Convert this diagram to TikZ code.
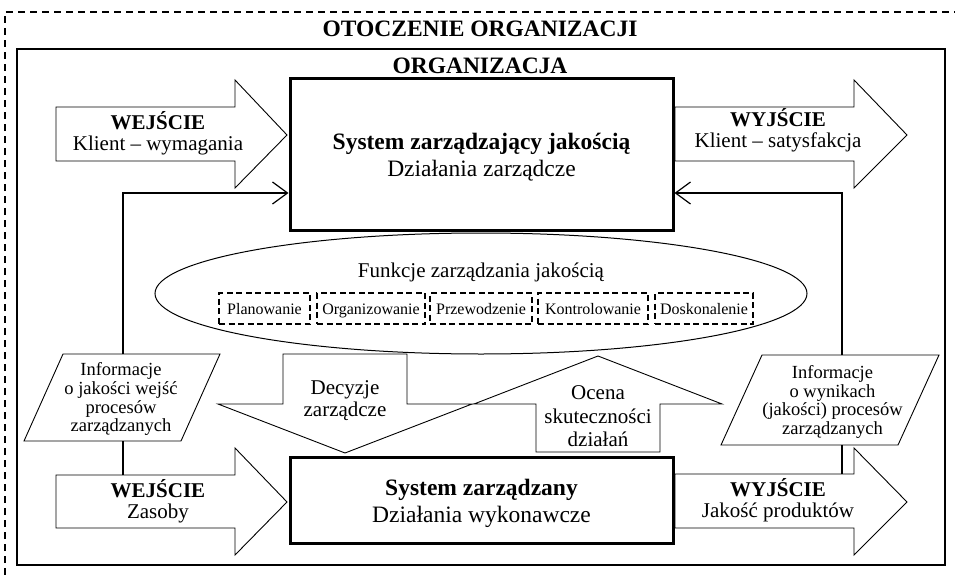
\documentclass[tikz,border=0pt]{standalone}
\usepackage{fontspec}
\setmainfont{Liberation Serif}
\usetikzlibrary{arrows.meta}
\tikzset{
  bigbold/.style={font=\fontsize{23.5}{27}\selectfont\bfseries, inner sep=0pt},
  systxt/.style={font=\fontsize{23.5}{27}\selectfont, inner sep=0pt, align=center},
  iotxt/.style={font=\fontsize{21}{21}\selectfont, inner sep=0pt, align=center},
  flowtxt/.style={font=\fontsize{21}{22}\selectfont, inner sep=0pt, align=center},
  infotxt/.style={font=\fontsize{18.5}{18.7}\selectfont, inner sep=0pt, align=center},
  blockarrow/.style={draw, line width=0.9pt, fill=white, line join=miter},
  sysbox/.style={draw, line width=3pt, fill=white, minimum width=383pt, inner sep=0pt},
  orgframe/.style={draw, line width=1.5pt},
  envframe/.style={draw, line width=1.3pt, dash pattern=on 7pt off 5pt},
  fnbox/.style={draw, line width=1.4pt, dash pattern=on 6pt off 3.5pt, minimum height=31pt, inner sep=0pt,
    font=\fontsize{16}{16}\selectfont, text height=13pt, text depth=1pt},
  fb/.style={line width=1.5pt},
  fbarrow/.style={line width=1.5pt, -{Straight Barb[length=15pt,width=22pt,line width=1.2pt]}},
}
\begin{document}
\begin{tikzpicture}[x=1pt,y=-1pt]
\useasboundingbox (0,0) rectangle (955,575);
% environment (dashed) frame
\draw[envframe] (5,575) -- (5,12) -- (955,12);
\node[bigbold, anchor=base] (env) at (480,37) {OTOCZENIE ORGANIZACJI};
% organisation frame
\draw[orgframe] (17,49) rectangle (945,565);
\node[bigbold, anchor=base] (org) at (480,74) {ORGANIZACJA};

% ellipse of functions
\draw[line width=1pt, fill=white] (481,293.5) ellipse [x radius=326, y radius=60.5];
\node[font=\fontsize{21}{21}\selectfont, inner sep=0pt, anchor=base] (fun) at (481,277) {Funkcje zarządzania jakością};
\node[fnbox, minimum width=91pt]  (f1) at (264.5,308.5) {Planowanie};
\node[fnbox, minimum width=108pt] (f2) at (371,308.5) {Organizowanie};
\node[fnbox, minimum width=102pt] (f3) at (481,308.5) {Przewodzenie};
\node[fnbox, minimum width=110pt] (f4) at (593,308.5) {Kontrolowanie};
\node[fnbox, minimum width=98pt]  (f5) at (704,308.5) {Doskonalenie};

% block arrows
\draw[blockarrow] (56,107) -- (235,107) -- (235,80) -- (287,135) -- (235,188) -- (235,161) -- (56,161) -- cycle;
\draw[blockarrow] (675,107) -- (854,107) -- (854,80) -- (907,135) -- (854,188) -- (854,161) -- (675,161) -- cycle;
\draw[blockarrow] (56,475) -- (235,475) -- (235,448) -- (287,502) -- (235,555) -- (235,528) -- (56,528) -- cycle;
\draw[blockarrow] (675,474) -- (854,474) -- (854,448) -- (907,502) -- (854,555) -- (854,528) -- (675,528) -- cycle;
\draw[blockarrow] (283,354) -- (407,354) -- (407,404) -- (472,404) -- (345,453) -- (218,404) -- (283,404) -- cycle;
\draw[blockarrow] (536,452) -- (660,452) -- (660,404) -- (722,404) -- (598,356) -- (474,404) -- (536,404) -- cycle;

\node[iotxt] (inTop) at (158,133) {\textbf{WEJŚCIE}\\Klient – wymagania};
\node[iotxt] (outTop) at (778,130.5) {\textbf{WYJŚCIE}\\Klient – satysfakcja};
\node[iotxt] (inBot) at (158,501) {\textbf{WEJŚCIE}\\Zasoby};
\node[iotxt] (outBot) at (778,500.5) {\textbf{WYJŚCIE}\\Jakość produktów};
\node[flowtxt] (dec) at (345,401) {Decyzje\\zarządcze};
\node[flowtxt, font=\fontsize{21}{23.5}\selectfont] (oce) at (598,416.5) {Ocena\\skuteczności\\działań};

% information parallelograms
\draw[line width=0.9pt, fill=white] (63,354) -- (220,354) -- (181,441) -- (24,441) -- cycle;
\draw[line width=0.9pt, fill=white] (762,355) -- (939,355) -- (898,445) -- (721,445) -- cycle;
\node[infotxt] (infoL) at (121,399.4) {Informacje\\o jakości wejść\\procesów\\zarządzanych};
\node[infotxt] (infoR) at (832.5,401.9) {Informacje\\o wynikach\\(jakości) procesów\\zarządzanych};

% system boxes
\node[sysbox, minimum height=151pt] (sysTop) at (481.5,154.5) {};
\node[systxt] (sysTopTxt) at (481.5,157.5) {\textbf{System zarządzający jakością}\\Działania zarządcze};
\node[sysbox, minimum height=86pt] (sysBot) at (481.5,500) {};
\node[systxt] (sysBotTxt) at (481.5,503) {\textbf{System zarządzany}\\Działania wykonawcze};

% feedback connectors
\coordinate (lTop) at (123,354);
\coordinate (lCorner) at (123,193);
\coordinate (lBot) at (123,441);
\coordinate (lIn) at (123,475);
\coordinate (rTop) at (842,355);
\coordinate (rCorner) at (842,193);
\coordinate (rBot) at (842,445);
\coordinate (rOut) at (842,474);
\draw[fbarrow] (lTop) -- (lCorner) -- (lCorner -| sysTop.west);
\draw[fb] (lIn) -- (lBot);
\draw[fbarrow] (rTop) -- (rCorner) -- (rCorner -| sysTop.east);
\draw[fb] (rOut) -- (rBot);
\end{tikzpicture}
\end{document}
